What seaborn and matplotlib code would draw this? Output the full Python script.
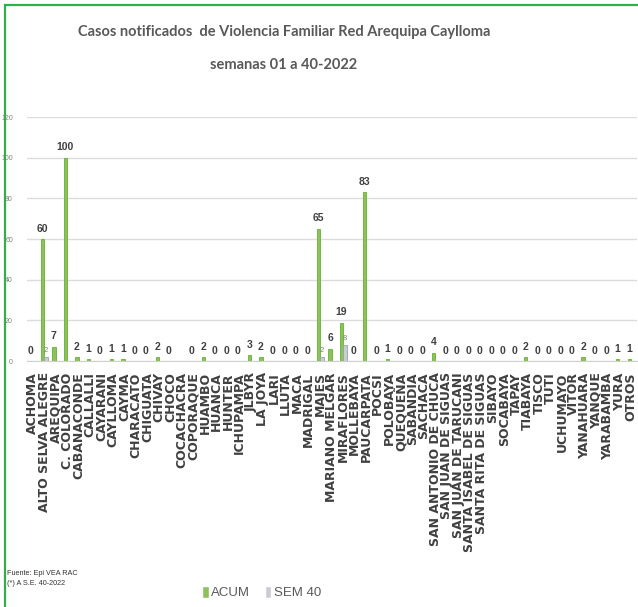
import numpy as np
import pandas as pd
import seaborn as sns
import matplotlib.pyplot as plt
from matplotlib.patches import Rectangle

# Datos
distritos = ["ACHOMA", "ALTO SELVA ALEGRE", "AREQUIPA", "C. COLORADO", "CABANACONDE",
             "CALLALLI", "CAYARANI", "CAYLLOMA", "CAYMA", "CHARACATO", "CHIGUATA",
             "CHIVAY", "CHOCO", "COCACHACRA", "COPORAQUE", "HUAMBO", "HUANCA", "HUNTER",
             "ICHUPAMPA", "JLBYR", "LA JOYA", "LARI", "LLUTA", "MACA", "MADRIGAL",
             "MAJES", "MARIANO MELGAR", "MIRAFLORES", "MOLLEBAYA", "PAUCARPATA", "POCSI",
             "POLOBAYA", "QUEQUEÑA", "SABANDIA", "SACHACA", "SAN ANTONIO DE CHUCA",
             "SAN JUAN DE SIGUAS", "SAN JUAN DE TARUCANI", "SANTA ISABEL DE SIGUAS",
             "SANTA RITA DE SIGUAS", "SIBAYO", "SOCABAYA", "TAPAY", "TIABAYA", "TISCO",
             "TUTI", "UCHUMAYO", "VITOR", "YANAHUARA", "YANQUE", "YARABAMBA", "YURA",
             "OTROS"]
acum = [0, 60, 7, 100, 2, 1, 0, 1, 1, 0, 0, 2, 0, None, 0, 2, 0, 0, 0, 3, 2, 0, 0, 0, 0,
        65, 6, 19, 0, 83, 0, 1, 0, 0, 0, 4, 0, 0, 0, 0, 0, 0, 0, 2, 0, 0, 0, 0, 2, 0, 0,
        1, 1]
sem40 = [0, 2, 0, 0, 0, 0, 0, 0, 0, 0, 0, 0, 0, 0, 0, 0, 0, 0, 0, 0, 0, 0, 0, 0, 0,
         2, 0, 8, 0, 0, 0, 0, 0, 0, 0, 0, 0, 0, 0, 0, 0, 0, 0, 0, 0, 0, 0, 0, 0, 0, 0,
         0, 0]
series = ["ACUM", "SEM 40"]
colores = ["#8ED24A", "#C9CDD3"]
bordes = ["#62B52E", "#9BA1A9"]

df = pd.DataFrame({
    "distrito": distritos * 2,
    "serie": [series[0]] * len(distritos) + [series[1]] * len(distritos),
    "casos": [np.nan if v is None else v for v in acum] + sem40,
})
df["casos"] = df["casos"].fillna(0)

sns.set_style("white")
plt.rcParams["font.family"] = ["Liberation Sans", "DejaVu Sans"]

fig = plt.figure(figsize=(6.38, 6.07), dpi=100)
ax = fig.add_axes([0.042, 0.405, 0.956, 0.402])

sns.barplot(data=df, x="distrito", y="casos", hue="serie", order=distritos,
            hue_order=series, palette=colores, width=0.6, ax=ax, legend=True)

for cont, borde in zip(ax.containers, bordes):
    for b in cont:
        b.set_edgecolor(borde)
        b.set_linewidth(0.6)

# etiquetas de valores
lab_acum = ["" if v is None else str(v) for v in acum]
ax.bar_label(ax.containers[0], labels=lab_acum, padding=4, fontsize=7.5,
             fontweight="bold", color="#404040")
lab_sem = [str(v) if v > 0 else "" for v in sem40]
ax.bar_label(ax.containers[1], labels=lab_sem, padding=2, fontsize=5.5,
             color="#7f7f7f")

ax.set_ylim(0, 120)
ax.set_yticks(range(0, 121, 20))
ax.set_xlim(-0.5, len(distritos) - 0.5)
ax.yaxis.grid(True, color="#dcdcdc", linewidth=1)
ax.set_axisbelow(True)
sns.despine(ax=ax, left=True, top=True, right=True)
ax.spines["bottom"].set_color("#d0d0d0")
ax.set_xlabel("")
ax.set_ylabel("")
ax.tick_params(axis="y", labelsize=5, labelcolor="#808080", length=0, pad=10)
ax.tick_params(axis="x", length=0, pad=8)
for t in ax.get_xticklabels():
    t.set_rotation(90)
    t.set_fontfamily("DejaVu Sans")
    t.set_fontweight("bold")
    t.set_fontsize(9)
    t.set_color("#404040")
    t.set_va("top")
    t.set_ha("center")

# leyenda abajo
handles, labels = ax.get_legend_handles_labels()
ax.get_legend().remove()
fig.legend(handles, labels, loc="center", bbox_to_anchor=(0.41, 0.024), ncol=2,
           frameon=False, fontsize=9.5, labelcolor="#595959", handlelength=0.5,
           handleheight=1.0, handletextpad=0.2, columnspacing=1.1)

fig.text(0.445, 0.947, "Casos notificados  de Violencia Familiar Red Arequipa Caylloma",
         ha="center", va="center", fontsize=10.5, fontweight="bold", color="#595959",
         family="Lato")
fig.text(0.445, 0.893, "semanas 01 a 40-2022", ha="center", va="center",
         fontsize=10.5, fontweight="bold", color="#595959", family="Lato")

fig.text(0.011, 0.056, "Fuente: Epi VEA RAC", fontsize=5.2, color="#333333", va="center")
fig.text(0.011, 0.039, "(*) A S.E. 40-2022", fontsize=5.2, color="#333333", va="center")

# marco verde
fig.patches.append(Rectangle((5 / 638, -0.1), 1.2, 1.1 - 5 / 607, transform=fig.transFigure,
                             fill=False, edgecolor="#2DB24A", linewidth=1.6))

plt.savefig("out.png", dpi=100)
